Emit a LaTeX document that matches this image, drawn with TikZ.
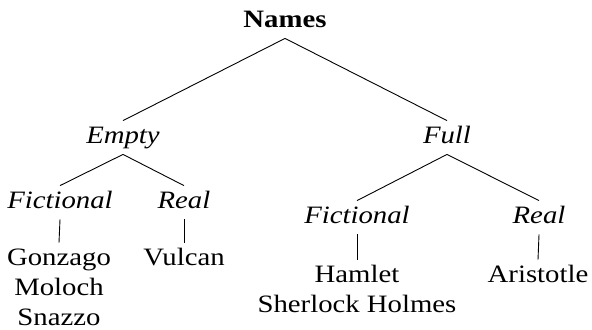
\documentclass[tikz,border=0pt]{standalone}
\usepackage{fontspec}
\setmainfont[FakeStretch=1.15]{Liberation Serif}
\newcommand\treesize{\fontsize{12.5}{15}\selectfont}
\tikzset{
  tnode/.style={anchor=base, inner xsep=1pt, inner ysep=3pt, text height=8pt, text depth=2.5pt, font=\treesize},
  cat/.style={tnode, font=\treesize\itshape},
  leaf/.style={tnode},
  edge/.style={draw=black, line width=0.45pt}
}
\begin{document}
\begin{tikzpicture}[x=0.5pt, y=-0.5pt]
\useasboundingbox (0,0) rectangle (592,329);
\node[tnode, font=\treesize\bfseries] (names) at (285,27) {Names};
\node[cat] (empty) at (123,143) {Empty};
\node[cat] (full) at (447,143) {Full};
\node[cat] (ficL) at (60,208) {Fictional};
\node[cat] (realL) at (184,208) {Real};
\node[cat] (ficR) at (357,223) {Fictional};
\node[cat] (realR) at (539,223) {Real};
\node[leaf] (gon) at (59,265) {\begin{tabular}[t]{@{}c@{}}Gonzago\\Moloch\\Snazzo\end{tabular}};
\node[leaf] (vul) at (184,265) {Vulcan};
\node[leaf] (ham) at (357,282) {\begin{tabular}[t]{@{}c@{}}Hamlet\\Sherlock Holmes\end{tabular}};
\node[leaf] (ari) at (538,282) {Aristotle};
\draw[edge] (names.south) -- (empty.north);
\draw[edge] (names.south) -- (full.north);
\draw[edge] (empty.south) -- (ficL.north);
\draw[edge] (empty.south) -- (realL.north);
\draw[edge] (full.south) -- (ficR.north);
\draw[edge] (full.south) -- (realR.north);
\draw[edge] (ficL.south) -- (gon.north);
\draw[edge] (realL.south) -- (vul.north);
\draw[edge] (ficR.south) -- (ham.north);
\draw[edge] (realR.south) -- (ari.north);
\end{tikzpicture}
\end{document}
